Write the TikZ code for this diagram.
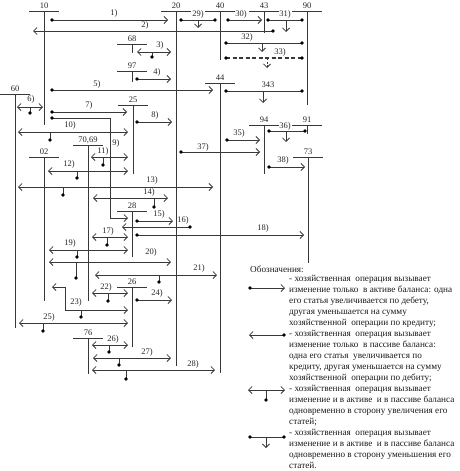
\documentclass[tikz,border=0pt]{standalone}
\usepackage{fontspec}
\setmainfont{Liberation Serif}
\usetikzlibrary{arrows.meta}
\tikzset{
  ln/.style={draw=black!78, line width=0.75pt},
  >={Straight Barb[length=3.5pt,width=7pt]},
  dotc/.style={fill=black},
  lbl/.style={font=\fontsize{8.5}{10}\selectfont, inner sep=0pt, text=black!85},
  acclbl/.style={lbl, anchor=base},
  legtxt/.style={font=\fontsize{9.2}{11}\selectfont, inner sep=0pt, anchor=base west, text=black!90},
}
\newcommand\myAcct[5]{%
  \coordinate (#1-t) at (#3,#4);
  \coordinate (#1-l) at ({#3-15},#4);
  \coordinate (#1-r) at ({#3+15},#4);
  \coordinate (#1-e) at (#3,#5);
  \draw[ln] (#1-l) -- (#1-r);
  \draw[ln] (#1-t) -- (#1-e);
  \node[acclbl] (#1) at (#3,{#4-2.5}) {#2};
}
\newcommand\myR[4]{%
  \coordinate (#1a) at (#2,#4); \coordinate (#1b) at (#3,#4);
  \draw[ln,->] (#1a) -- (#1b);
  \fill[dotc] (#1a) circle[radius=1.8pt];
}
\newcommand\myL[4]{%
  \coordinate (#1a) at (#2,#4); \coordinate (#1b) at (#3,#4);
  \draw[ln,<-] (#1a) -- (#1b);
  \fill[dotc] (#1b) circle[radius=1.8pt];
}
\newcommand\myB[6]{%
  \coordinate (#1a) at (#2,#4); \coordinate (#1b) at (#3,#4);
  \coordinate (#1s) at (#5,#4); \coordinate (#1d) at (#5,#6);
  \draw[ln,<->] (#1a) -- (#1b);
  \draw[ln] (#1s) -- (#1d);
  \fill[dotc] (#1d) circle[radius=1.8pt];
}
\newcommand\myD[6]{%
  \coordinate (#1a) at (#2,#4); \coordinate (#1b) at (#3,#4);
  \coordinate (#1s) at (#5,#4); \coordinate (#1d) at (#5,#6);
  \draw[ln] (#1a) -- (#1b);
  \draw[ln,->] (#1s) -- (#1d);
  \fill[dotc] (#1a) circle[radius=1.8pt];
  \fill[dotc] (#1b) circle[radius=1.8pt];
}
\newcommand\myLbl[4]{\node[lbl] (#1) at (#2,#3) {#4};}
\newcommand\myLeg[2]{\node[legtxt] (leg#1) at (289,{281.5+11*#1}) {#2};}
\begin{document}
\begin{tikzpicture}[x=1pt,y=-1pt]
\useasboundingbox (0,0) rectangle (459,471);
% accounts
\myAcct{a10}{10}{44}{11}{125}
\myAcct{a20}{20}{176}{11}{366}
\myAcct{a40}{40}{220}{11}{60}
\myAcct{a43}{43}{264}{11}{33}
\myAcct{a90}{90}{307}{11}{105}
\myAcct{a68}{68}{132}{44}{53}
\myAcct{a97}{97}{132}{71}{82}
\myAcct{a44}{44}{220}{83}{373}
\myAcct{a60}{60}{15}{94}{328}
\myAcct{a25}{25}{133}{105}{174}
\myAcct{a7069}{70,69}{88}{145}{301}
\myAcct{a02}{02}{44}{157}{301}
\myAcct{a94}{94}{264}{125}{174}
\myAcct{a91}{91}{307}{125}{134}
\myAcct{a73}{73}{308}{157}{263}
\myAcct{a28}{28}{132}{211}{257}
\myAcct{a26}{26}{132}{287}{347}
\myAcct{a76}{76}{88}{338}{374}
% operations
\myR{o1}{52}{168}{20}        \myLbl{l1}{114}{13}{1)}
\myL{o2}{33}{273}{31}        \myLbl{l2}{145}{25}{2)}
\myB{o3}{137}{171}{52}{152}{57} \myLbl{l3}{160}{45}{3)}
\myR{o4}{137}{171}{79}       \myLbl{l4}{157}{72}{4)}
\myR{o5}{52}{213}{90}        \myLbl{l5}{97}{84}{5)}
\myB{o6}{17}{43}{107}{30}{113} \myLbl{l6}{31}{99}{6)}
\myR{o7}{52}{127}{112}       \myLbl{l7}{89}{105}{7)}
\myR{o8}{137}{172}{122}      \myLbl{l8}{155}{115}{8)}
\coordinate (o9a) at (52,118); \coordinate (o9c) at (110,118);
\coordinate (o9d) at (110,218); \coordinate (o9b) at (128,218);
\draw[ln,->] (o9a) -- (o9c) -- (o9d) -- (o9b);
\fill[dotc] (o9a) circle[radius=1.8pt];
\myLbl{l9}{116}{143}{9)}
\myB{o10}{18}{128}{132}{50}{140} \myLbl{l10}{70}{125}{10)}
\myB{o11}{91}{128}{157}{103}{165} \myLbl{l11}{103}{151}{11)}
\myB{o12}{48}{128}{171}{77}{178} \myLbl{l12}{69}{164}{12)}
\myB{o13}{18}{213}{187}{63}{195} \myLbl{l13}{152}{180}{13)}
\myB{o14}{93}{168}{198}{154}{207} \myLbl{l14}{149}{192}{14)}
\myR{o15}{137}{173}{221}     \myLbl{l15}{159}{214}{15)}
\myL{o16}{122}{190}{227}     \myLbl{l16}{183}{220}{16)}
\myB{o17}{92}{128}{237}{107}{245} \myLbl{l17}{108}{231}{17)}
\myR{o18}{137}{304}{235}     \myLbl{l18}{263}{228}{18)}
\myB{o19}{49}{128}{250}{77}{257} \myLbl{l19}{70}{243}{19)}
\myB{o20}{49}{171}{262}{76}{278} \myLbl{l20}{151}{252}{20)}
\myB{o21}{95}{217}{275}{159}{282} \myLbl{l21}{199}{268}{21)}
\myB{o22}{92}{128}{293}{108}{301} \myLbl{l22}{106}{287}{22)}
\coordinate (o23a) at (52,287); \coordinate (o23c) at (65,287);
\coordinate (o23d) at (65,310); \coordinate (o23b) at (128,310);
\coordinate (o23s) at (81,310); \coordinate (o23e) at (81,317);
\draw[ln,<->] (o23a) -- (o23c) -- (o23d) -- (o23b);
\draw[ln] (o23s) -- (o23e);
\fill[dotc] (o23e) circle[radius=1.8pt];
\myLbl{l23}{76}{302}{23)}
\myR{o24}{137}{172}{300}     \myLbl{l24}{157}{293}{24)}
\myB{o25}{19}{128}{323}{43}{331} \myLbl{l25}{49}{317}{25)}
\myB{o26}{92}{128}{345}{109}{352} \myLbl{l26}{113}{339}{26)}
\myB{o27}{93}{171}{358}{119}{365} \myLbl{l27}{147}{352}{27)}
\myB{o28}{92}{215}{370}{126}{379} \myLbl{l28}{193}{364}{28)}
\myD{o29}{181}{215}{20}{198}{28} \myLbl{l29}{198}{14}{29)}
\myR{o30}{228}{262}{20}      \myLbl{l30}{241}{14}{30)}
\myD{o31}{268}{302}{20}{286}{32} \myLbl{l31}{285}{14}{31)}
\myD{o32}{226}{302}{43}{262}{52} \myLbl{l32}{247}{37}{32)}
\coordinate (o33a) at (226,58); \coordinate (o33b) at (302,58);
\coordinate (o33s) at (267,58); \coordinate (o33d) at (267,68);
\draw[ln,line width=1.1pt,dash pattern=on 4pt off 2.5pt] (o33a) -- (o33b);
\draw[ln,dash pattern=on 2pt off 1.5pt,->] (o33s) -- (o33d);
\fill[dotc] (o33a) circle[radius=1.8pt];
\fill[dotc] (o33b) circle[radius=1.8pt];
\myLbl{l33}{280}{52}{33)}
\myD{o34}{226}{302}{91}{263}{103} \myLbl{l34}{268}{85}{343}
\myR{o35}{227}{260}{140}     \myLbl{l35}{239}{133}{35)}
\myD{o36}{269}{305}{131}{286}{142} \myLbl{l36}{285}{126}{36)}
\myR{o37}{181}{260}{152}     \myLbl{l37}{203}{147}{37)}
\myR{o38}{269}{305}{167}     \myLbl{l38}{283}{160}{38)}
% legend
\node[legtxt] (legtitle) at (250,272) {Обозначения:};
\myR{g1}{250}{285}{288}
\myL{g2}{249}{284}{335}
\myB{g3}{248}{285}{390}{266}{400}
\myD{g4}{250}{284}{437}{266}{448}
\myLeg{0}{- хозяйственная~ операция вызывает}
\myLeg{1}{изменение только~ в активе баланса: одна}
\myLeg{2}{его статья увеличивается по дебету,}
\myLeg{3}{другая уменьшается на сумму}
\myLeg{4}{хозяйственной~ операции по кредиту;}
\myLeg{5}{- хозяйственная~ операция вызывает}
\myLeg{6}{изменение только~ в пассиве баланса:}
\myLeg{7}{одна его статья~ увеличивается по}
\myLeg{8}{кредиту, другая уменьшается на сумму}
\myLeg{9}{хозяйственной~ операции по дебиту;}
\myLeg{10}{- хозяйственная~ операция вызывает}
\myLeg{11}{изменение и в активе~ и в пассиве баланса}
\myLeg{12}{одновременно в сторону увеличения его}
\myLeg{13}{статей;}
\myLeg{14}{- хозяйственная~ операция вызывает}
\myLeg{15}{изменение и в активе~ и в пассиве баланса}
\myLeg{16}{одновременно в сторону уменьшения его}
\myLeg{17}{статей.}
\end{tikzpicture}
\end{document}
